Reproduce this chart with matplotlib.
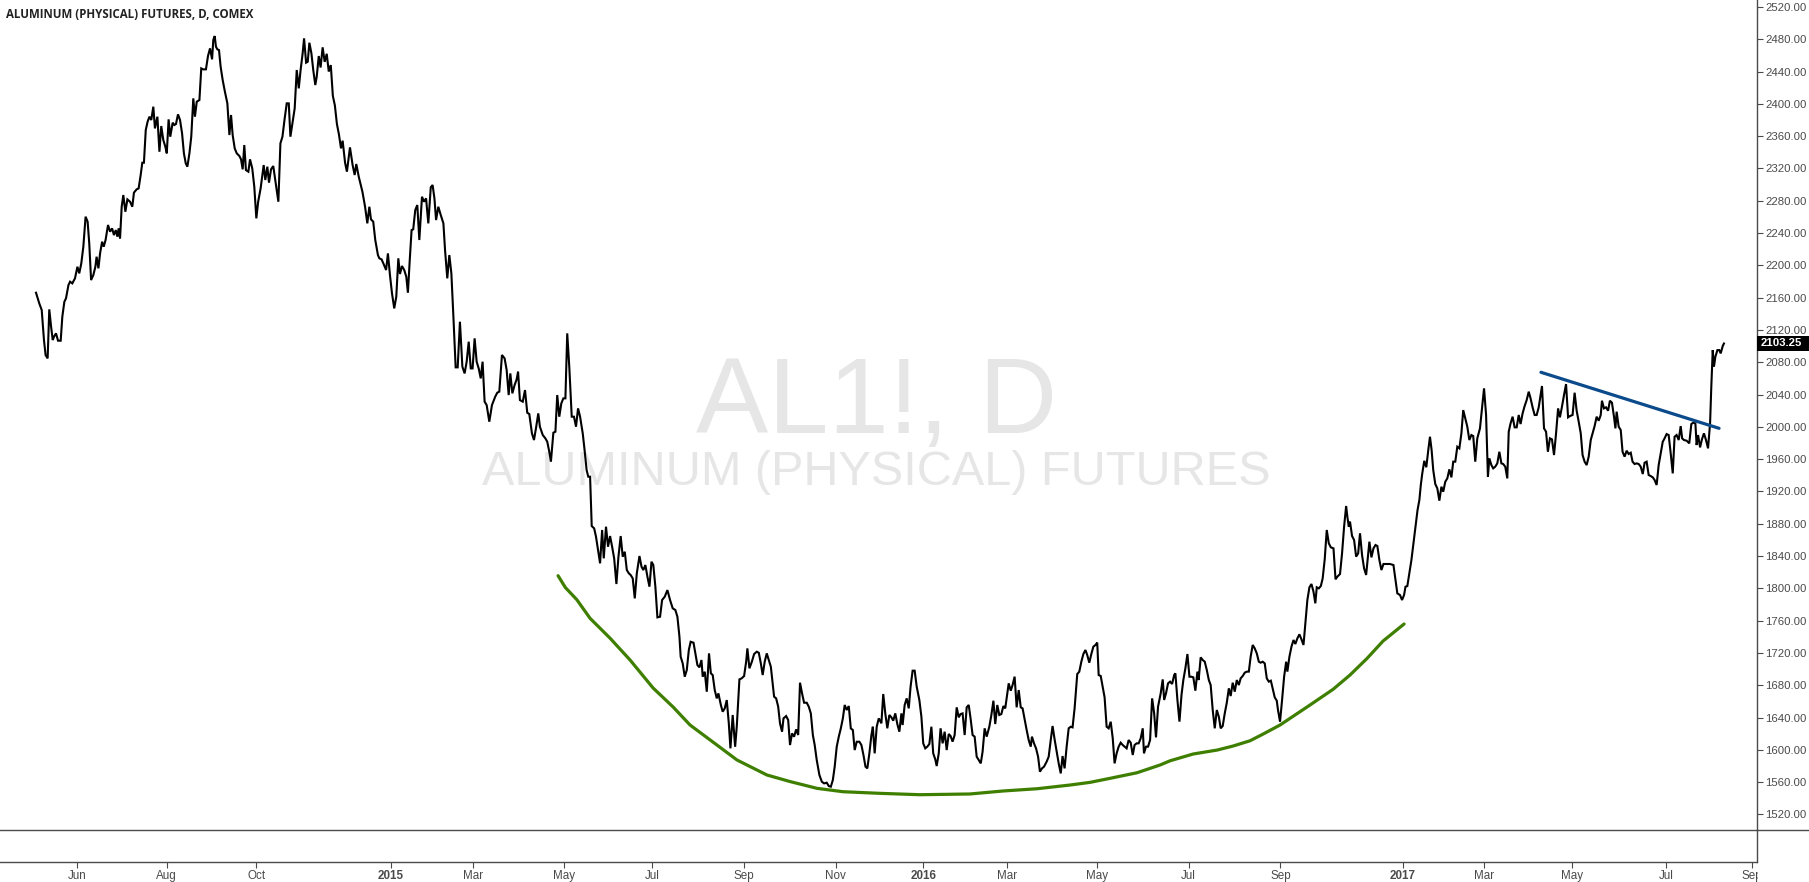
import matplotlib
matplotlib.use("Agg")
import matplotlib.pyplot as plt
from matplotlib.patches import Rectangle
from matplotlib.lines import Line2D
from matplotlib.transforms import blended_transform_factory

# bar index (trading days since first bar) and daily close
bar_idx = [
    0.0, 1.6, 2.8, 3.9, 4.7, 5.7, 6.5, 7.4, 8.2, 8.8, 9.8, 10.8, 12.1, 12.9, 13.9, 14.7,
    15.9, 16.7, 17.8, 19.1, 20.3, 21.2, 22.2, 23.2, 24.3, 25.3, 26.1, 27.0, 28.1, 29.1,
    29.7, 30.6, 31.4, 32.4, 33.2, 34.1, 35.3, 36.3, 37.3, 38.2, 39.1, 39.9, 40.5, 41.2,
    42.0, 42.8, 43.8, 44.8, 46.1, 47.2, 48.0, 49.3, 50.3, 51.3, 52.1, 52.9, 53.8, 54.7,
    55.6, 56.5, 57.5, 58.3, 59.5, 60.5, 61.4, 62.4, 63.4, 64.1, 65.0, 65.8, 67.0, 67.8,
    68.6, 69.6, 70.6, 71.6, 72.5, 73.4, 74.2, 75.2, 76.1, 77.1, 77.9, 78.8, 80.1, 81.0,
    82.0, 83.3, 84.3, 85.3, 86.3, 86.9, 87.6, 88.2, 88.9, 89.7, 90.5, 91.5, 92.6, 93.8,
    94.8, 95.6, 96.4, 97.4, 98.4, 99.7, 100.5, 101.3, 102.1, 102.9, 104.1, 104.9, 106.0,
    107.0, 108.0, 108.9, 110.1, 110.9, 111.6, 112.4, 113.4, 114.2, 115.2, 116.3, 117.3,
    118.8, 119.8, 120.8, 121.9, 122.9, 123.9, 124.7, 125.7, 126.8, 127.8, 128.8, 129.7,
    130.7, 131.4, 132.4, 133.2, 134.0, 135.0, 135.9, 136.9, 137.6, 138.6,
    139.5, 140.5, 141.5, 142.5, 143.5, 144.5, 145.5, 146.5, 147.5, 148.5,
    149.5, 150.3, 151.5, 152.4, 153.9, 155.2, 156.2, 157.0, 158.2, 160.0, 161.3, 162.4,
    163.4, 164.2, 165.3, 166.3, 167.6, 168.3, 169.4, 170.6, 171.6, 172.5, 173.5, 174.5,
    175.6, 176.6, 177.6, 178.4, 179.4, 180.5, 181.5, 182.3, 183.2, 184.1, 184.9, 185.9,
    186.9, 187.9, 189.2, 190.2, 191.2, 192.3, 193.5, 194.4, 195.3, 196.1, 197.2, 198.4,
    199.7, 200.5, 201.6, 202.6, 203.6, 204.6, 205.7, 206.7, 207.8, 209.0, 210.1, 211.1,
    212.1, 213.1, 214.0, 215.0, 216.0, 217.0, 218.0, 218.9, 219.9, 220.9, 222.2, 223.5,
    225.1, 226.1, 227.1, 228.4, 229.7, 230.7, 231.7, 232.5, 233.5, 234.6, 235.6, 236.3,
    237.2, 238.6, 239.7, 240.8, 241.8, 243.1, 244.1, 245.2, 246.2, 247.0, 248.4, 249.7,
    250.6, 251.6, 252.4, 253.6, 254.6, 255.5, 256.5, 257.5, 258.5, 259.5, 260.4, 261.4,
    262.6, 263.7, 264.7, 265.7, 266.7, 268.0, 268.9, 269.9, 270.7,
    271.6, 272.4, 273.6, 274.5, 275.5, 276.5, 277.5, 278.3, 279.4, 280.4, 281.4, 282.4,
    283.4, 284.5, 285.5, 286.6, 287.6, 288.6, 289.6, 290.6, 291.5, 292.5, 293.5, 294.5,
    295.8, 296.8, 297.7, 298.7, 299.7, 300.7, 301.7, 302.6, 303.6, 304.6, 305.9, 306.9,
    308.2, 309.5, 310.8, 312.1, 313.4, 314.4, 315.4, 316.0, 317.0, 318.0, 319.0, 320.0,
    320.9, 322.3, 323.2, 324.2, 325.2, 326.2, 326.8, 327.8, 328.8, 329.9, 330.8, 331.7,
    332.7, 333.7, 334.5, 335.7, 336.6, 337.6, 338.6, 339.6, 340.4, 341.5, 342.7, 343.5,
    344.8, 345.9, 347.1, 348.1, 348.7, 349.7, 350.9, 352.0, 353.3, 354.3, 355.3, 356.2,
    357.2, 358.2, 359.2, 360.2, 361.1, 361.8, 362.8, 363.8, 364.7, 365.7, 366.4, 367.7,
    368.7, 369.6, 370.6, 371.6, 372.6, 373.6, 374.5, 375.5, 376.5, 377.8, 378.8, 379.8,
    380.8, 381.7, 382.7, 384.0, 385.2, 386.3, 387.6, 388.6, 389.6, 390.6, 391.5, 392.5,
    393.5, 394.5, 395.5, 396.4, 397.4, 398.4, 399.4, 400.4, 401.3, 402.3, 403.6, 404.6,
    405.6, 406.6, 407.5, 408.5, 409.5, 410.2, 411.1, 412.1, 413.1,
    414.4, 415.3, 416.3, 417.3, 418.3, 419.3, 420.2, 421.2, 422.2, 423.2, 424.2, 424.8,
    425.8, 426.8, 427.8, 428.7, 429.7, 430.7, 431.7, 433.0, 434.0, 434.9, 435.9, 436.9,
    437.9, 438.9, 439.8, 440.8, 441.5, 442.5, 443.4, 444.4, 445.4, 446.4, 447.4, 448.3,
    449.3, 450.3, 451.3, 452.3, 453.2, 454.2, 455.2, 456.2, 457.2, 458.1, 459.1, 460.1,
    461.1, 462.1, 463.1, 464.0, 465.0, 466.0, 467.3, 468.3, 469.3, 470.2, 471.2, 472.2,
    473.2, 474.2, 475.1, 476.1, 476.8, 477.8, 478.7, 479.7, 480.7, 481.7, 482.7, 483.6,
    484.6, 485.6, 486.6, 487.6, 488.2, 489.2, 490.2, 491.2, 492.1, 493.1, 494.1, 495.4,
    496.4, 497.4, 498.3, 499.3, 500.3, 501.3, 502.3, 503.2, 504.2, 505.2, 506.2, 507.2,
    508.1, 509.1, 510.4, 511.4, 512.4, 513.4, 514.4, 515.3, 516.3, 517.3, 518.3, 519.3,
    520.2, 520.9, 521.9, 522.9, 523.8, 524.8, 525.8, 526.8, 527.8, 528.7, 529.7, 530.7,
    531.7, 532.7, 533.6, 534.6, 535.6, 536.6, 537.6, 538.5, 539.5, 540.5, 541.5, 542.5,
    543.1, 544.1, 545.1, 546.1, 547.1, 548.1, 549.0, 550.0, 551.3, 552.3, 553.0, 553.9,
    554.9, 555.9, 556.9, 557.9, 558.5, 559.5, 560.5, 561.5, 562.4, 563.4, 564.4, 565.4,
    566.4, 567.3, 568.3, 569.3, 569.9, 570.9, 571.9, 572.9, 573.9, 574.9, 575.8, 576.8,
    577.8, 578.8, 579.8, 580.7, 581.7, 582.7, 583.7, 584.7, 585.6, 586.6, 587.6, 588.6,
    589.6, 590.5, 591.5, 592.5, 593.5, 594.5, 595.4, 596.4, 597.4, 598.4, 599.4, 600.3,
    601.3, 602.3, 603.3, 604.3, 605.3, 606.2, 607.2, 608.2, 608.8, 609.8, 610.8, 611.8,
    612.8, 613.4, 614.4, 615.4, 616.4, 617.3, 618.3, 619.3, 620.3, 621.3, 622.2, 623.2,
    624.2, 625.2, 626.2, 627.1, 627.8, 628.8, 629.8, 630.7, 631.7, 632.7, 633.7, 634.7,
    636.0, 637.0, 637.9, 639.2, 640.2, 641.2, 642.2, 642.8, 643.5, 644.1, 645.1, 646.1,
    647.1, 648.1, 649.0, 650.0, 651.0, 652.0, 652.6, 653.6, 654.6, 655.6, 656.6, 657.5,
    658.5, 659.5, 660.5, 662.1, 663.7, 665.4, 666.4, 667.3, 668.6, 669.6, 670.6, 671.3,
    672.2, 673.2, 674.2, 675.2, 676.2, 677.2, 678.1, 678.8,
    679.5, 680.5, 681.5, 682.5,
    683.3, 684.1, 684.9, 685.9, 686.9, 687.9, 688.9, 689.8, 690.8, 691.8, 692.8, 693.8,
    694.7, 695.7, 696.7, 697.7, 698.7, 699.6, 700.6, 701.6, 702.6, 703.6, 704.5, 705.5,
    706.5, 707.8, 708.8, 709.8, 710.8, 711.7, 712.4, 713.4, 714.3, 715.3, 716.3, 717.3,
    718.3, 719.2, 720.2, 721.2, 721.9, 722.8, 723.8, 724.8, 725.8, 726.8, 727.7, 728.7,
    729.7, 730.7, 731.7, 732.6, 733.6, 734.6, 735.6, 736.6, 737.5, 738.2, 739.2, 740.2,
    741.1, 742.1, 743.1, 744.1, 745.1, 746.1, 747.0, 748.0, 749.0, 750.0, 751.0, 751.9,
    753.2, 754.2, 755.2, 756.2, 757.2, 758.1, 759.1, 760.1, 761.1, 762.1, 763.0, 764.0,
    765.0, 766.0, 767.0, 767.6, 768.6, 769.6, 770.6, 771.5, 772.5, 773.5, 774.2, 774.8,
    775.8, 776.8, 777.7, 778.7, 779.7, 780.7, 781.7, 782.6, 783.6, 784.6, 785.6, 786.6,
    787.6, 788.5, 789.5, 790.5, 791.5, 792.5, 793.4, 794.4, 795.4, 796.4, 797.4, 798.3,
    799.3, 800.3, 801.3, 802.3, 803.2, 804.2, 805.2, 806.2, 806.9, 807.8, 809.1, 810.4,
    811.4, 812.4, 813.4, 814.0, 814.7, 815.7, 816.6, 817.6, 818.6, 819.6, 820.6, 821.2,
    821.9, 822.5, 823.2, 824.2, 825.1, 825.8, 826.8, 827.4,
]
close = [
    2166.1, 2152.9, 2144.7, 2107.5, 2088.9, 2084.8, 2145.5, 2124.0, 2107.5, 2111.6, 2115.8, 2106.7, 2106.7, 2136.4, 2155.0, 2159.1,
    2175.6, 2179.8, 2177.7, 2183.9, 2198.3, 2190.1, 2202.5, 2223.1, 2260.3, 2254.1, 2227.2, 2181.8, 2188.0, 2198.3,
    2210.7, 2196.3, 2214.8, 2229.3, 2223.1, 2231.4, 2250.0, 2241.7, 2245.8, 2237.5, 2243.7, 2235.5, 2245.8, 2233.4,
    2272.6, 2287.1, 2266.4, 2281.7, 2278.8, 2272.6, 2290.0, 2294.1, 2295.3, 2311.8, 2327.1, 2327.1, 2367.6, 2377.9,
    2384.1, 2380.0, 2396.5, 2369.6, 2384.1, 2340.7, 2372.5, 2355.2, 2346.9, 2338.7, 2380.8, 2359.3, 2376.7, 2373.8,
    2375.0, 2387.0, 2380.0, 2363.4, 2338.7, 2326.3, 2322.2, 2338.7, 2359.3, 2406.8, 2384.1, 2402.7, 2404.7, 2443.9,
    2442.7, 2442.7, 2459.2, 2468.7, 2455.1, 2479.0, 2484.0, 2470.8, 2467.5, 2466.6, 2446.0, 2429.5, 2415.0, 2400.6,
    2361.4, 2386.2, 2361.4, 2344.9, 2338.7, 2335.4, 2331.3, 2318.9, 2349.0, 2318.0, 2316.0, 2331.3, 2320.1,
    2297.4, 2258.2, 2278.8, 2295.3, 2310.6, 2324.2, 2305.7, 2322.2, 2302.4, 2318.9, 2323.0, 2305.7,
    2278.8, 2351.1, 2359.3, 2382.0, 2400.6, 2400.6, 2359.3, 2375.8, 2394.4, 2441.9, 2419.2, 2441.9,
    2462.5, 2481.1, 2451.0, 2452.2, 2475.7, 2462.5, 2441.9, 2423.3, 2433.6, 2459.2,
    2445.0, 2470.0, 2452.0, 2462.0, 2440.0, 2448.0, 2410.0, 2398.0, 2375.0, 2362.0,
    2344.9, 2354.4, 2327.1, 2316.0, 2346.1, 2324.2, 2311.9, 2325.5, 2309.8, 2291.2, 2272.6, 2252.0,
    2272.6, 2257.0, 2254.1, 2231.4, 2212.8, 2208.7, 2207.4, 2200.4, 2194.2, 2214.8, 2188.0, 2165.3,
    2146.7, 2161.2, 2208.7, 2189.3, 2199.2, 2194.2, 2186.0, 2166.1, 2206.6, 2243.7, 2244.6, 2268.5,
    2274.7, 2231.4, 2285.0, 2278.8, 2283.0, 2252.0, 2296.6, 2299.5, 2283.0, 2256.1, 2272.6, 2262.3,
    2252.0, 2219.0, 2183.9, 2212.8, 2190.1, 2136.4, 2073.7, 2073.7, 2130.2, 2074.5, 2066.2, 2080.7,
    2105.5, 2072.4, 2072.4, 2109.6, 2080.7, 2072.4, 2060.0, 2080.7, 2031.2, 2027.0, 2006.4, 2027.0,
    2037.4, 2042.3, 2043.6, 2089.0, 2084.8, 2070.4, 2039.4, 2066.2, 2041.5, 2051.8, 2058.8, 2068.3,
    2033.2, 2031.2, 2045.6, 2017.5, 2015.9, 1991.9, 1983.7, 2000.2, 2016.7, 2000.2, 1989.9, 1985.7,
    1981.6, 1969.2, 1956.9, 1992.8, 1994.0, 2039.4, 2012.6, 2029.1, 2035.3, 2035.3, 2115.8, 2074.5,
    2012.6, 2012.6, 2000.2, 2022.9, 2012.6, 1991.9, 1971.3, 1946.5, 1938.3,
    1938.3, 1877.2, 1874.3, 1864.0, 1847.5, 1831.0, 1872.3, 1837.2, 1876.4, 1851.6, 1864.8, 1851.6,
    1837.2, 1805.4, 1839.2, 1864.8, 1839.2, 1845.4, 1822.7, 1818.6, 1816.5, 1812.4, 1787.6, 1818.6,
    1840.1, 1826.9, 1822.7, 1828.9, 1814.5, 1802.1, 1833.0, 1828.9, 1802.1, 1764.1, 1764.9, 1785.6,
    1789.7, 1797.9, 1785.6, 1775.3, 1773.2, 1764.9, 1740.2, 1715.4, 1707.1, 1690.6, 1698.9, 1723.7,
    1733.9, 1732.7, 1719.5, 1705.1, 1702.2, 1711.3, 1690.6, 1696.8, 1672.0, 1719.5, 1694.8, 1692.7,
    1674.1, 1663.8, 1670.0, 1655.6, 1647.3, 1651.4, 1661.7, 1632.8, 1601.9, 1643.2, 1603.9, 1628.7,
    1687.3, 1688.6, 1691.5, 1709.2, 1725.7, 1701.0, 1709.2, 1718.7, 1721.6, 1720.3, 1707.1, 1692.7,
    1709.2, 1719.5, 1711.3, 1703.0, 1682.4, 1665.9, 1663.8, 1653.5, 1632.8, 1622.5, 1639.0, 1641.9,
    1637.0, 1606.0, 1620.4, 1616.3, 1625.4, 1618.4, 1683.2, 1670.0, 1658.4, 1658.4, 1653.5, 1645.2,
    1618.4, 1606.0, 1587.4, 1568.9, 1560.6, 1558.5, 1559.4, 1555.2, 1554.4, 1562.7, 1579.2, 1604.0,
    1616.3, 1626.6, 1639.0, 1655.6, 1649.4, 1654.3, 1626.6, 1624.6, 1599.8, 1610.1, 1610.1, 1606.0,
    1593.6, 1579.2, 1577.1, 1595.7, 1618.4, 1628.7, 1595.7, 1628.7, 1639.0,
    1632.9, 1669.2, 1645.2, 1626.7, 1643.2, 1640.3, 1636.2, 1645.2, 1632.0, 1622.5, 1645.2, 1630.8,
    1655.6, 1663.8, 1651.4, 1678.3, 1698.1, 1698.1, 1678.3, 1661.8, 1641.1, 1608.1, 1601.9, 1604.0,
    1607.3, 1628.7, 1595.7, 1588.3, 1580.0, 1595.7, 1626.7, 1608.1, 1622.5, 1599.8, 1619.7, 1617.2,
    1610.2, 1618.4, 1652.7, 1640.3, 1644.4, 1645.2, 1618.4, 1652.7, 1655.6, 1639.1, 1618.4, 1616.4,
    1591.6, 1587.5, 1583.3, 1597.8, 1626.7, 1616.4, 1628.7, 1643.2, 1660.9, 1632.0, 1655.6, 1643.2,
    1644.4, 1654.3, 1651.4, 1669.2, 1682.4, 1673.3, 1680.3, 1690.7, 1652.7, 1674.1, 1652.7, 1651.4,
    1637.8, 1624.6, 1612.2, 1604.0, 1616.4, 1608.1, 1601.9, 1591.6, 1573.0, 1577.1, 1579.2, 1585.4,
    1591.6, 1612.2, 1629.6, 1613.0, 1597.8, 1583.3, 1570.9, 1592.4, 1577.1, 1604.0, 1626.7, 1628.7,
    1627.9, 1651.4, 1693.9, 1696.9, 1709.2, 1718.7, 1723.7, 1717.5, 1708.0, 1718.7, 1727.8, 1729.9,
    1732.8, 1692.7, 1691.5, 1677.4, 1665.1, 1628.7, 1626.7, 1634.9, 1614.3, 1583.3, 1595.7, 1604.0,
    1608.9, 1606.0, 1604.0, 1601.9, 1612.2, 1608.9, 1593.7, 1606.0, 1608.1, 1608.1, 1614.3, 1626.7,
    1595.7, 1604.0, 1604.0, 1612.2, 1663.8, 1645.2, 1615.5, 1653.5, 1670.0, 1687.3, 1661.8, 1670.0,
    1682.4, 1684.5, 1681.6, 1692.7, 1694.8, 1661.8, 1635.0, 1668.0, 1686.5, 1701.0, 1718.7, 1690.6,
    1690.6, 1689.8, 1673.3, 1696.9, 1686.5, 1714.6, 1711.3, 1709.2, 1698.9, 1686.5, 1680.3, 1649.4,
    1626.7, 1649.4, 1641.1, 1626.7, 1629.6, 1645.2, 1658.4, 1676.2, 1666.7, 1683.2, 1672.1, 1686.5,
    1680.3, 1688.6, 1691.5, 1695.6, 1696.9, 1696.9, 1715.4, 1729.9, 1725.7, 1719.5, 1709.2, 1708.0,
    1709.2, 1707.1, 1688.6, 1684.5, 1685.7, 1676.2, 1665.1, 1660.9, 1649.4, 1634.9, 1661.8, 1690.6,
    1709.2, 1696.9, 1715.4, 1727.8, 1736.1, 1731.1, 1738.1, 1743.1, 1736.9, 1729.9, 1756.7, 1785.6,
    1801.3, 1805.4, 1795.9, 1781.5, 1801.3, 1800.0, 1802.9, 1812.4, 1836.0, 1872.3, 1855.8, 1850.8,
    1849.6, 1811.2, 1814.5, 1817.8, 1843.4, 1876.4, 1902.0, 1888.8, 1876.4, 1882.6, 1864.9, 1859.9,
    1839.3, 1843.4, 1868.2, 1841.3, 1824.8, 1816.6, 1831.8, 1857.8, 1838.4, 1849.6, 1853.7, 1852.5,
    1835.1, 1822.7, 1830.2, 1830.2, 1830.2, 1828.9, 1810.4, 1793.8, 1791.8, 1785.6, 1791.8, 1802.1,
    1802.9, 1818.6, 1835.1, 1855.8, 1876.4, 1897.0, 1909.4, 1928.0,
    1942.0, 1958.0, 1950.0, 1972.0,
    1987.8, 1971.3, 1946.5, 1929.2, 1923.8, 1908.6, 1925.9, 1919.7, 1932.1, 1936.2, 1947.4, 1937.5,
    1956.9, 1956.9, 1975.4, 1973.4, 1992.0, 2020.8, 2010.5, 2000.2, 1983.7, 1989.9, 1988.6, 1956.9,
    1985.8, 1998.1, 2022.9, 2047.7, 2014.7, 1938.3, 1961.0, 1952.7, 1948.6, 1950.7, 1954.8, 1969.2,
    1954.8, 1954.0, 1950.7, 1936.2, 1994.0, 2004.3, 2012.6, 1999.4, 1999.4, 2014.7, 2003.5, 2016.7,
    2025.8, 2033.2, 2043.6, 2035.3, 2024.2, 2014.7, 2014.7, 2024.2, 2039.4, 2050.6, 1998.1, 1994.0,
    1969.2, 1985.8, 1984.5, 1965.1, 1991.9, 2022.9, 2011.8, 2025.0, 2039.4, 2053.0, 2011.8, 2013.4,
    2014.7, 2042.3, 2020.0, 2006.4, 1992.0, 1965.1, 1956.9, 1952.7, 1963.1, 1983.7, 1992.0, 2001.0,
    2012.6, 2007.6, 2014.7, 2032.4, 2022.9, 2024.2, 2020.0, 2032.4, 2029.9, 2012.6, 1998.1, 2018.8,
    2000.2, 1996.1, 1969.2, 1963.1, 1970.5, 1966.4, 1968.0, 1956.9, 1954.0, 1954.8, 1954.0, 1950.7,
    1941.6, 1955.6, 1956.9, 1940.4, 1939.1, 1937.5, 1934.2, 1928.0, 1952.7, 1967.2, 1981.6, 1985.8,
    1991.1, 1989.9, 1967.2, 1942.4, 1987.8, 1989.9, 1983.7, 2001.0, 1985.8, 1983.7, 1982.9, 1979.6,
    2003.5, 2005.2, 2004.3, 1977.5, 1989.9, 1974.6, 1984.5, 1992.0, 1983.7, 1973.4, 2004.3, 2049.7,
    2095.1, 2074.5, 2086.9, 2095.1, 2095.1, 2091.0, 2100.1, 2103.25,
]

# hand-drawn rounding-bottom curve (green) and falling resistance line (blue)
arc_bar = [255.9, 259.5, 265.1, 271.6, 281.4, 291.2, 302.5, 312.3, 320.6, 333.8, 343.6,
           358.3, 369.6, 382.8, 395.6, 413.7, 433.3, 457.8, 474.0, 490.7, 506.9, 516.7,
           526.5, 539.7, 551.0, 555.9, 567.2, 579.0, 586.8, 595.1, 601.5, 609.8, 624.5,
           635.8, 644.1, 652.5, 660.3, 670.6]
arc_price = [1815.7, 1801.0, 1786.0, 1762.9, 1738.3, 1711.3, 1676.6, 1653.1, 1630.8, 1606.0,
             1587.5, 1568.9, 1560.8, 1552.4, 1548.2, 1546.2, 1544.5, 1545.4, 1549.1, 1551.9,
             1556.5, 1559.8, 1564.8, 1571.7, 1581.3, 1586.5, 1594.9, 1599.8, 1604.8, 1611.3,
             1619.6, 1630.8, 1655.6, 1675.0, 1692.7, 1713.4, 1734.8, 1755.9]
trend_bar = [737.7, 825.0]
trend_price = [2067.6, 1998.2]

month_bars = [20, 64, 108, 174, 214, 259, 302, 347, 392, 435, 476, 520, 565, 610,
              670, 710, 753, 799, 841]
month_labels = ['Jun', 'Aug', 'Oct', '2015', 'Mar', 'May', 'Jul', 'Sep', 'Nov', '2016',
                'Mar', 'May', 'Jul', 'Sep', '2017', 'Mar', 'May', 'Jul', 'Sep']
price_ticks = list(range(1520, 2521, 40))
last_price = 2103.25

W, H = 1809, 882
fig = plt.figure(figsize=(W / 100, H / 100), dpi=100)
axis_col = '#4a4a4a'
label_col = '#4a4a4a'

ax = fig.add_axes([0, 52 / H, 1757 / W, 830 / H])
ax2 = fig.add_axes([0, 20 / H, 1757 / W, 32 / H], sharex=ax)
ax2.patch.set_visible(False)

ax.plot(bar_idx, close, color='black', lw=1.5, solid_joinstyle='miter')
ax.plot(arc_bar, arc_price, color='#3f7f00', lw=2.3, solid_capstyle='round')
ax.plot(trend_bar, trend_price, color='#0b4a8b', lw=2.3, solid_capstyle='round')

ax.set_xlim(-17.65, 843.6)
ax.set_ylim(1500.8, 2528.6)

for a in (ax, ax2):
    for s in ('top', 'left'):
        a.spines[s].set_visible(False)
    a.spines['right'].set_color(axis_col)
    a.spines['bottom'].set_color(axis_col)
    a.spines['right'].set_linewidth(1.0)
    a.spines['bottom'].set_linewidth(1.0)

ax.yaxis.tick_right()
ax.set_yticks(price_ticks)
ax.set_yticklabels([f'{p:.2f}' for p in price_ticks])
ax.tick_params(axis='y', direction='out', length=4, width=0.8, color=axis_col,
               labelcolor=label_col, labelsize=8.2, pad=2)
for t in ax.get_yticklabels():
    t.set_family('Liberation Sans')
ax.tick_params(axis='x', bottom=False, labelbottom=False)

ax2.set_yticks([])
ax2.set_xticks(month_bars)
ax2.set_xticklabels(month_labels)
ax2.tick_params(axis='x', direction='out', length=4, width=0.8, color=axis_col,
                labelcolor=label_col, labelsize=8.4, pad=2)
for t in ax2.get_xticklabels():
    t.set_family(['Liberation Sans Narrow', 'Liberation Sans'])
    if t.get_text().isdigit():
        t.set_fontweight('bold')

# last price marker on the price scale
mark_tr = blended_transform_factory(fig.transFigure, ax.transData)
ax.add_patch(Rectangle((1757 / W, last_price - 8.7), 1 - 1757 / W, 17.4, transform=mark_tr,
                       fc='black', ec='none', clip_on=False, zorder=5))
ax.text(1761 / W, last_price, f'{last_price:.2f}', transform=mark_tr,
        ha='left', va='center', color='white', fontsize=8.2, fontweight='bold',
        family='Liberation Sans', clip_on=False, zorder=6)

# watermark
ax.text(0.499, 0.512, 'AL1!, D', transform=ax.transAxes, ha='center', va='center',
        fontsize=78, color='#e6e6e6', family='Liberation Sans', zorder=0)
ax.text(0.499, 0.431, 'ALUMINUM (PHYSICAL) FUTURES', transform=ax.transAxes,
        ha='center', va='center', fontsize=35, color='#e6e6e6',
        family='Liberation Sans', zorder=0)

fig.text(6 / W, 1 - 15 / H, 'ALUMINUM (PHYSICAL) FUTURES, D, COMEX', ha='left',
         va='center', fontsize=8.3, color='#222222', family='Open Sans',
         fontweight='bold')

# separator continues through the price scale, white mask under it
fig.add_artist(Line2D([1757 / W, 1], [52 / H, 52 / H], color=axis_col, lw=1.0))
fig.add_artist(Rectangle((1758 / W, 0), 1 - 1758 / W, 19.5 / H, transform=fig.transFigure,
                         fc='white', ec='none', zorder=10))

fig.savefig('out.png', dpi=100)
